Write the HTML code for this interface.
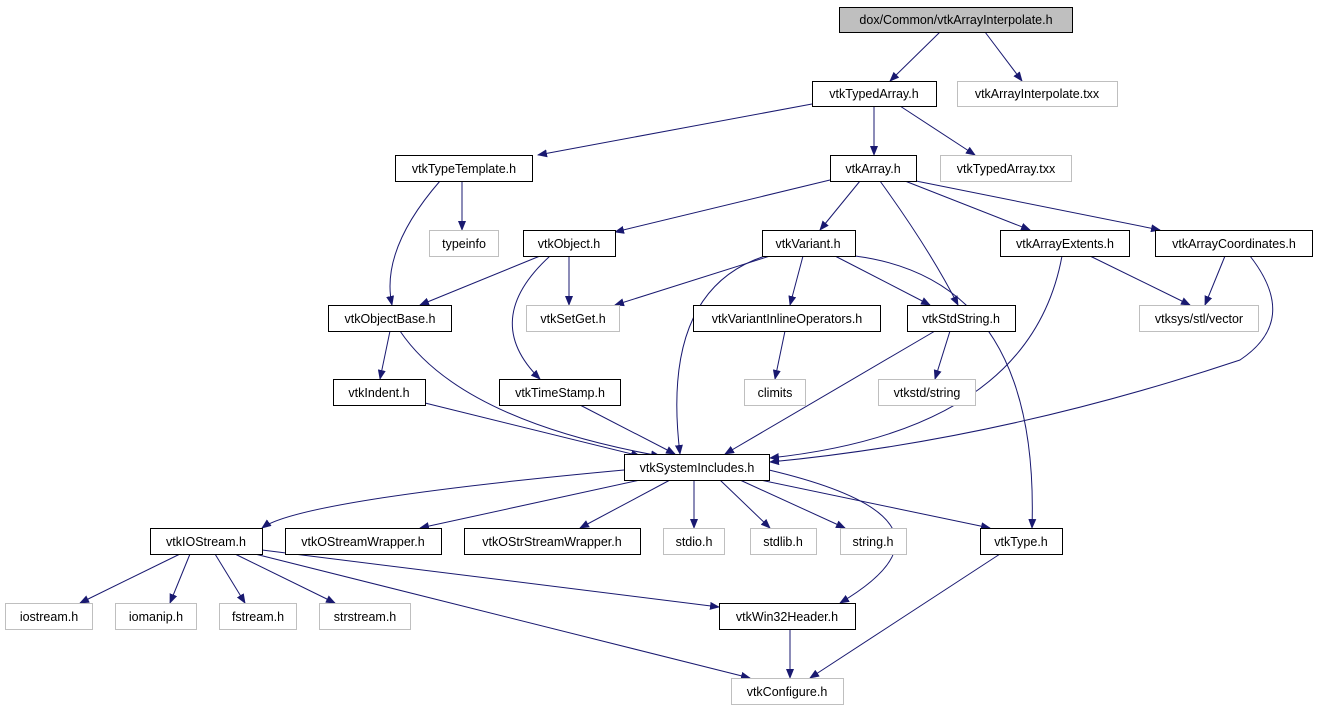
<!DOCTYPE html>
<html><head><meta charset="utf-8"><style>
html,body{margin:0;padding:0;background:#fff;width:1317px;height:709px;overflow:hidden}
svg text{font-family:"Liberation Sans",sans-serif;font-size:12.5px;text-anchor:middle}
</style></head><body>
<svg width="1317" height="709" xmlns="http://www.w3.org/2000/svg">
<defs><marker id="a" markerWidth="10" markerHeight="8" refX="9" refY="4" orient="auto" markerUnits="userSpaceOnUse"><path d="M0,0 L10,4 L0,8 z" fill="#191970"/></marker></defs>
<g fill="none" stroke="#191970" stroke-width="1" marker-end="url(#a)">
<path d="M940,32 L890,81"/>
<path d="M985,32 L1022,81"/>
<path d="M812,104 L538,155"/>
<path d="M874,106 L874,155"/>
<path d="M900,106 L975,155"/>
<path d="M462,181 L462,230"/>
<path d="M440,181 Q380,250 392,305"/>
<path d="M830,180 L615,232"/>
<path d="M860,181 L820,230"/>
<path d="M880,181 Q930,250 958,305"/>
<path d="M905,181 L1030,230"/>
<path d="M916,181 L1160,230"/>
<path d="M540,256 L420,305"/>
<path d="M569,256 L569,305"/>
<path d="M550,256 Q480,320 540,379"/>
<path d="M770,256 L615,305"/>
<path d="M803,256 L790,305"/>
<path d="M835,256 L930,305"/>
<path d="M765,256 Q660,290 680,454"/>
<path d="M855,256 Q1040,280 1032,528"/>
<path d="M1090,256 L1190,305"/>
<path d="M1062,256 Q1030,430 770,458"/>
<path d="M1225,256 L1205,305"/>
<path d="M1250,256 Q1300,320 1240,360 Q1000,440 770,462"/>
<path d="M390,331 L380,379"/>
<path d="M400,331 Q460,420 660,456"/>
<path d="M785,331 L775,379"/>
<path d="M950,331 L935,379"/>
<path d="M935,331 L725,454"/>
<path d="M425,403 L640,456"/>
<path d="M580,405 L675,454"/>
<path d="M624,470 Q300,500 262,528"/>
<path d="M640,480 L420,528"/>
<path d="M670,480 L580,528"/>
<path d="M694,480 L694,528"/>
<path d="M720,480 L770,528"/>
<path d="M740,480 L845,528"/>
<path d="M760,480 L990,528"/>
<path d="M769,470 Q980,520 840,603"/>
<path d="M180,554 L80,603"/>
<path d="M190,554 L170,603"/>
<path d="M215,554 L245,603"/>
<path d="M235,554 L335,603"/>
<path d="M262,550 L719,607"/>
<path d="M255,554 L750,678"/>
<path d="M790,629 L790,678"/>
<path d="M1000,554 L810,678"/>
</g>
<g stroke-width="1">
<rect x="839.5" y="7.5" width="233" height="25" fill="#bfbfbf" stroke="#000"/>
<g fill="#fff" stroke="#000">
<rect x="812.5" y="81.5" width="124" height="25"/>
<rect x="395.5" y="155.5" width="137" height="26"/>
<rect x="830.5" y="155.5" width="86" height="26"/>
<rect x="523.5" y="230.5" width="92" height="26"/>
<rect x="762.5" y="230.5" width="93" height="26"/>
<rect x="1000.5" y="230.5" width="129" height="26"/>
<rect x="1155.5" y="230.5" width="157" height="26"/>
<rect x="328.5" y="305.5" width="123" height="26"/>
<rect x="693.5" y="305.5" width="187" height="26"/>
<rect x="907.5" y="305.5" width="108" height="26"/>
<rect x="333.5" y="379.5" width="92" height="26"/>
<rect x="499.5" y="379.5" width="121" height="26"/>
<rect x="624.5" y="454.5" width="145" height="26"/>
<rect x="150.5" y="528.5" width="112" height="26"/>
<rect x="285.5" y="528.5" width="156" height="26"/>
<rect x="464.5" y="528.5" width="176" height="26"/>
<rect x="980.5" y="528.5" width="82" height="26"/>
<rect x="719.5" y="603.5" width="136" height="26"/>
</g>
<g fill="#fff" stroke="#bfbfbf">
<rect x="957.5" y="81.5" width="160" height="25"/>
<rect x="940.5" y="155.5" width="131" height="26"/>
<rect x="429.5" y="230.5" width="69" height="26"/>
<rect x="526.5" y="305.5" width="93" height="26"/>
<rect x="1139.5" y="305.5" width="119" height="26"/>
<rect x="744.5" y="379.5" width="61" height="26"/>
<rect x="878.5" y="379.5" width="97" height="26"/>
<rect x="663.5" y="528.5" width="61" height="26"/>
<rect x="750.5" y="528.5" width="66" height="26"/>
<rect x="840.5" y="528.5" width="66" height="26"/>
<rect x="5.5" y="603.5" width="87" height="26"/>
<rect x="115.5" y="603.5" width="81" height="26"/>
<rect x="219.5" y="603.5" width="77" height="26"/>
<rect x="319.5" y="603.5" width="91" height="26"/>
<rect x="731.5" y="678.5" width="112" height="26"/>
</g>
</g>
<g fill="#000">
<text x="956" y="24">dox/Common/vtkArrayInterpolate.h</text>
<text x="874" y="98">vtkTypedArray.h</text>
<text x="464" y="173">vtkTypeTemplate.h</text>
<text x="873" y="173">vtkArray.h</text>
<text x="569" y="248">vtkObject.h</text>
<text x="808" y="248">vtkVariant.h</text>
<text x="1065" y="248">vtkArrayExtents.h</text>
<text x="1234" y="248">vtkArrayCoordinates.h</text>
<text x="390" y="323">vtkObjectBase.h</text>
<text x="787" y="323">vtkVariantInlineOperators.h</text>
<text x="961" y="323">vtkStdString.h</text>
<text x="379" y="397">vtkIndent.h</text>
<text x="560" y="397">vtkTimeStamp.h</text>
<text x="697" y="472">vtkSystemIncludes.h</text>
<text x="206" y="546">vtkIOStream.h</text>
<text x="363" y="546">vtkOStreamWrapper.h</text>
<text x="552" y="546">vtkOStrStreamWrapper.h</text>
<text x="1021" y="546">vtkType.h</text>
<text x="787" y="621">vtkWin32Header.h</text>
<text x="1037" y="98">vtkArrayInterpolate.txx</text>
<text x="1006" y="173">vtkTypedArray.txx</text>
<text x="464" y="248">typeinfo</text>
<text x="573" y="323">vtkSetGet.h</text>
<text x="1199" y="323">vtksys/stl/vector</text>
<text x="775" y="397">climits</text>
<text x="927" y="397">vtkstd/string</text>
<text x="694" y="546">stdio.h</text>
<text x="783" y="546">stdlib.h</text>
<text x="873" y="546">string.h</text>
<text x="49" y="621">iostream.h</text>
<text x="156" y="621">iomanip.h</text>
<text x="258" y="621">fstream.h</text>
<text x="365" y="621">strstream.h</text>
<text x="787" y="696">vtkConfigure.h</text>
</g>
</svg>
</body></html>
